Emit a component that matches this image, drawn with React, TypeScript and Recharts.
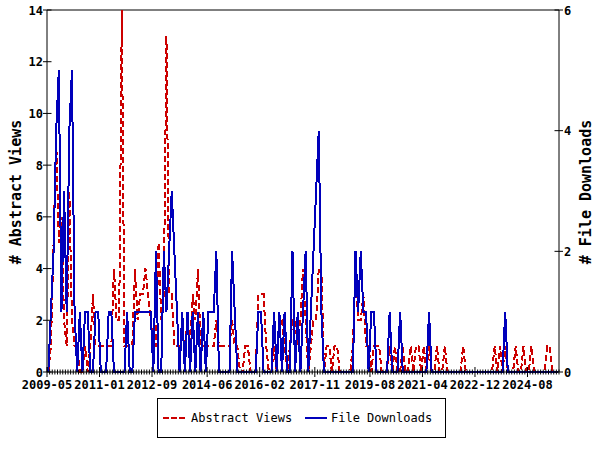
import React from 'react';
import { LineChart, Line, XAxis, YAxis, ReferenceLine } from 'recharts';

// Monthly series, first month 2009-05
const startYear = 2009;
const startMonth = 5;

const abstractViews: number[] = [
  0, 1, 5, 9, 5, 6, 2, 1, 7, 2,
  1, 1, 0, 0, 1, 0, 1, 3, 1, 1,
  1, 1, 1, 1, 1, 4, 2, 2, 14, 1,
  1, 1, 1, 4, 2, 3, 3, 4, 3, 2,
  1, 1, 5, 2, 3, 13, 3, 3, 1, 1,
  1, 1, 1, 2, 1, 3, 2, 4, 1, 1,
  1, 1, 1, 1, 2, 1, 1, 1, 1, 1,
  2, 1, 1, 0, 0, 1, 1, 0, 0, 0,
  3, 3, 3, 1, 0, 0, 1, 0, 2, 2,
  1, 0, 1, 2, 2, 1, 2, 4, 2, 0,
  1, 2, 2, 4, 4, 0, 1, 1, 0, 1,
  1, 0, 0, 0, 0, 0, 1, 4, 2, 2,
  3, 1, 1, 0, 1, 1, 1, 0, 0, 0,
  1, 0, 1, 0, 0, 1, 0, 0, 1, 0,
  1, 1, 0, 1, 0, 1, 0, 0, 1, 0,
  0, 1, 0, 0, 0, 0, 0, 0, 1, 0,
  0, 0, 0, 0, 0, 0, 0, 0, 0, 0,
  1, 0, 1, 0, 1, 0, 0, 0, 1, 0,
  0, 1, 0, 0, 1, 0, 0, 0, 0, 0,
  1, 1, 0, 0, 0,
];

const fileDownloads: number[] = [
  0, 1, 2, 4, 5, 1, 3, 1, 4, 5,
  1, 0, 1, 0, 1, 1, 0, 0, 1, 1,
  0, 0, 0, 1, 1, 0, 0, 0, 0, 0,
  1, 0, 0, 1, 1, 1, 1, 1, 1, 1,
  0, 2, 0, 0, 2, 1, 2, 3, 2, 1,
  0, 1, 0, 1, 0, 1, 0, 1, 0, 1,
  0, 1, 1, 1, 2, 0, 0, 0, 0, 0,
  2, 1, 0, 0, 0, 0, 0, 0, 0, 0,
  1, 1, 0, 0, 0, 0, 1, 0, 1, 0,
  1, 0, 0, 2, 0, 1, 0, 1, 2, 0,
  1, 2, 3, 4, 1, 0, 0, 0, 0, 0,
  0, 0, 0, 0, 0, 0, 0, 2, 1, 2,
  1, 1, 0, 1, 1, 0, 0, 0, 0, 0,
  1, 0, 0, 0, 1, 0, 0, 0, 0, 0,
  0, 0, 0, 0, 0, 1, 0, 0, 0, 0,
  0, 0, 0, 0, 0, 0, 0, 0, 0, 0,
  0, 0, 0, 0, 0, 0, 0, 0, 0, 0,
  0, 0, 0, 0, 1, 0, 0, 0, 0, 0,
  0, 0, 0, 0, 0, 0, 0, 0, 0, 0,
  0, 0, 0, 0, 0,
];

const xTickLabels: string[] = [
  '2009-05', '2011-01', '2012-09', '2014-06', '2016-02',
  '2017-11', '2019-08', '2021-04', '2022-12', '2024-08',
];
const leftTicks: number[] = [0, 2, 4, 6, 8, 10, 12, 14];
const rightTicks: number[] = [0, 2, 4, 6];

const monthSpan = 195;
const FONT = '"DejaVu Sans Mono", monospace';
const RED = '#cc0000';
const BLUE = '#0000bb';

const monthIndex = (label: string) => {
  const [y, m] = label.split('-').map(Number);
  return (y - startYear) * 12 + (m - startMonth);
};

const majorMap = new Map<number, string>();
xTickLabels.forEach((l) => majorMap.set(monthIndex(l), l));

const minorTicks: number[] = [];
for (let i = 0; i <= monthSpan; i++) minorTicks.push(i);

const data = abstractViews.map((v, m) => ({
  t: m + 0.5,
  views: v,
  downloads: fileDownloads[m],
}));

const XTick = (props: any) => {
  const { x, y, payload } = props;
  const label = majorMap.get(payload.value);
  const major = label !== undefined;
  return (
    <g>
      <line x1={x} x2={x} y1={y - (major ? 5 : 2.5)} y2={y + (major ? 5 : 2.5)} stroke="#000" strokeWidth={1} />
      {major && (
        <text x={x} y={y + 17} textAnchor="middle" fontFamily={FONT} fontSize={12} fontWeight="bold" fill="#000">
          {label}
        </text>
      )}
    </g>
  );
};

const LeftTick = (props: any) => {
  const { x, y, payload } = props;
  return (
    <g>
      <line x1={x - 4} x2={x + 4.5} y1={y} y2={y} stroke="#000" strokeWidth={1} />
      <text x={x - 4} y={y + 4.5} textAnchor="end" fontFamily={FONT} fontSize={12} fontWeight="bold" fill="#000">
        {payload.value}
      </text>
    </g>
  );
};

const RightTick = (props: any) => {
  const { x, y, payload } = props;
  return (
    <g>
      <line x1={x - 4.5} x2={x + 4} y1={y} y2={y} stroke="#000" strokeWidth={1} />
      <text x={x + 5} y={y + 4.5} textAnchor="start" fontFamily={FONT} fontSize={12} fontWeight="bold" fill="#000">
        {payload.value}
      </text>
    </g>
  );
};

const titleStyle = (cx: number, cy: number): React.CSSProperties => ({
  position: 'absolute',
  left: cx - 100,
  top: cy - 10,
  width: 200,
  height: 20,
  lineHeight: '20px',
  textAlign: 'center',
  fontFamily: FONT,
  fontSize: 15,
  fontWeight: 'bold',
  color: '#000',
  transform: 'rotate(-90deg)',
  whiteSpace: 'nowrap',
});

export default function App() {
  return (
    <div style={{ position: 'absolute', left: 0, top: 0, width: 600, height: 450, background: '#fff' }}>
      <LineChart width={600} height={450} data={data} margin={{ top: 10, right: 0, bottom: 48, left: 0 }}>
        <XAxis
          dataKey="t"
          type="number"
          domain={[0, monthSpan]}
          ticks={minorTicks}
          interval={0}
          tick={(p: any) => <XTick {...p} />}
          tickLine={false}
          tickSize={0}
          tickMargin={0}
          axisLine={{ stroke: '#000', strokeWidth: 1 }}
          height={30}
          allowDataOverflow
        />
        <YAxis
          yAxisId="left"
          domain={[0, 14]}
          ticks={leftTicks}
          interval={0}
          width={47}
          tick={(p: any) => <LeftTick {...p} />}
          tickLine={false}
          tickSize={0}
          tickMargin={0}
          axisLine={{ stroke: '#000', strokeWidth: 1 }}
        />
        <YAxis
          yAxisId="right"
          orientation="right"
          domain={[0, 6]}
          ticks={rightTicks}
          interval={0}
          width={41}
          tick={(p: any) => <RightTick {...p} />}
          tickLine={false}
          tickSize={0}
          tickMargin={0}
          axisLine={{ stroke: '#000', strokeWidth: 1 }}
        />
        <ReferenceLine yAxisId="left" y={14} stroke="#000" strokeWidth={1} />
        <Line
          yAxisId="left"
          type="linear"
          dataKey="views"
          stroke={RED}
          strokeWidth={2}
          strokeDasharray="6 3"
          shapeRendering="crispEdges"
          dot={false}
          activeDot={false}
          isAnimationActive={false}
        />
        <Line
          yAxisId="right"
          type="linear"
          dataKey="downloads"
          stroke={BLUE}
          strokeWidth={2}
          shapeRendering="crispEdges"
          dot={false}
          activeDot={false}
          isAnimationActive={false}
        />
      </LineChart>

      <div style={titleStyle(15.5, 192)}># Abstract Views</div>
      <div style={titleStyle(585.5, 192)}># File Downloads</div>

      <div
        style={{
          position: 'absolute',
          left: 157,
          top: 398,
          width: 289,
          height: 40,
          border: '1px solid #000',
          boxSizing: 'border-box',
        }}
      />
      <svg style={{ position: 'absolute', left: 162, top: 413 }} width={24} height={10}>
        <line x1={1} x2={23} y1={5} y2={5} stroke={RED} strokeWidth={2} strokeDasharray="6 2" />
      </svg>
      <div style={{ position: 'absolute', left: 191, top: 410, height: 16, lineHeight: '16px', fontFamily: FONT, fontSize: 12, color: '#000', whiteSpace: 'nowrap' }}>
        Abstract Views
      </div>
      <svg style={{ position: 'absolute', left: 304, top: 413 }} width={24} height={10}>
        <line x1={1} x2={23} y1={5} y2={5} stroke={BLUE} strokeWidth={2} />
      </svg>
      <div style={{ position: 'absolute', left: 331, top: 410, height: 16, lineHeight: '16px', fontFamily: FONT, fontSize: 12, color: '#000', whiteSpace: 'nowrap' }}>
        File Downloads
      </div>
    </div>
  );
}
